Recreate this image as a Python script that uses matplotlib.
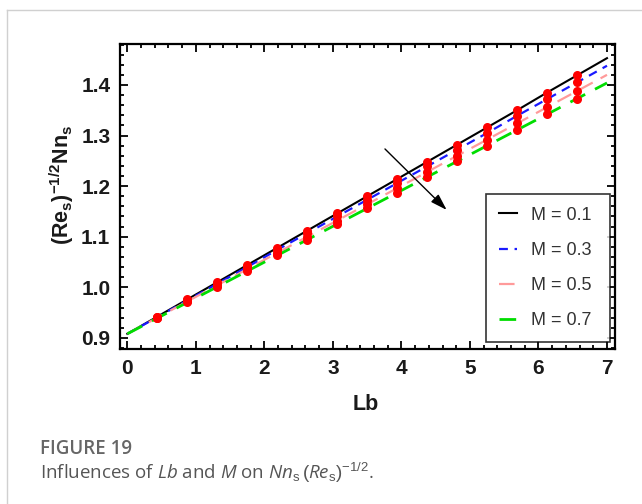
import numpy as np
import matplotlib
matplotlib.use("Agg")
import matplotlib.pyplot as plt
from matplotlib.lines import Line2D

plt.rcParams['mathtext.fontset'] = 'custom'
plt.rcParams['mathtext.rm'] = 'Liberation Sans'
plt.rcParams['mathtext.it'] = 'Open Sans:italic'
plt.rcParams['mathtext.bf'] = 'Liberation Sans:bold'

# Lb samples used for the curves (markers sit on the interior ones)
lb = [0.0, 0.4375, 0.875, 1.3125, 1.75, 2.1875, 2.625, 3.0625, 3.5,
      3.9375, 4.375, 4.8125, 5.25, 5.6875, 6.125, 6.5625, 7.0]

nn_m01 = [0.908, 0.942, 0.976, 1.010, 1.044, 1.078, 1.112, 1.146, 1.180,
          1.214, 1.248, 1.282, 1.316, 1.350, 1.385, 1.419, 1.453]
nn_m03 = [0.908, 0.941, 0.974, 1.007, 1.040, 1.074, 1.107, 1.140, 1.173,
          1.206, 1.239, 1.272, 1.305, 1.339, 1.372, 1.405, 1.438]
nn_m05 = [0.908, 0.940, 0.972, 1.004, 1.036, 1.068, 1.100, 1.132, 1.164,
          1.196, 1.228, 1.260, 1.292, 1.324, 1.356, 1.388, 1.420]
nn_m07 = [0.908, 0.939, 0.970, 1.001, 1.032, 1.063, 1.094, 1.125, 1.156,
          1.187, 1.218, 1.249, 1.280, 1.311, 1.342, 1.373, 1.404]

labels = ['M = 0.1', 'M = 0.3', 'M = 0.5', 'M = 0.7']
colors = ['black', '#1a1aff', '#ff9a9a', '#00dd00']
dashes = [None, (4, 3), (7, 4), (6, 4)]
widths = [1.5, 1.6, 1.6, 2.0]
series = [nn_m01, nn_m03, nn_m05, nn_m07]

W, H = 642, 504
fig = plt.figure(figsize=(W / 100, H / 100), dpi=100)
fig.patch.set_facecolor('white')

# thin page frame on the left and top
fig.add_artist(Line2D([7 / W, 7 / W], [0, 1 - 10 / H], color='#d0d0d0', lw=1))
fig.add_artist(Line2D([7 / W, 1], [1 - 10 / H, 1 - 10 / H], color='#d0d0d0', lw=1))

ax = fig.add_axes([120 / W, 1 - 349 / H, 495 / W, 305 / H])

handles = []
for y, c, d, w, lab in zip(series, colors, dashes, widths, labels):
    line, = ax.plot(lb, y, color=c, lw=w, label=lab)
    if d is not None:
        line.set_dashes(d)
    handles.append(line)

for y in series:
    ax.plot(lb[1:-1], y[1:-1], 'o', color='red', markersize=6.5,
            markeredgewidth=0, zorder=3)

ax.annotate('', xy=(4.66, 1.153), xytext=(3.76, 1.2735),
            arrowprops=dict(arrowstyle='-|>,head_length=1.0,head_width=0.32',
                            color='black', lw=1.0, shrinkA=0, shrinkB=0),
            zorder=5)

ax.set_xlim(-0.107, 7.117)
ax.set_ylim(0.878, 1.481)
ax.set_xticks(np.arange(0, 8, 1))
ax.set_xticks(np.arange(0, 7.01, 0.2), minor=True)
ax.set_yticks([0.9, 1.0, 1.1, 1.2, 1.3, 1.4])
ax.set_yticks(np.arange(0.88, 1.481, 0.02), minor=True)
ax.set_yticklabels(['0.9', '1.0', '1.1', '1.2', '1.3', '1.4'])

ax.tick_params(which='both', direction='in', top=True, right=True,
               width=1.3, colors='black')
ax.tick_params(which='major', length=6, pad=7)
ax.tick_params(which='minor', length=3)
for lbl in ax.get_xticklabels() + ax.get_yticklabels():
    lbl.set_fontfamily('Liberation Sans')
    lbl.set_fontweight('bold')
    lbl.set_fontsize(15)
    lbl.set_color('#1a1a1a')
for sp in ax.spines.values():
    sp.set_linewidth(1.6)

leg = ax.legend(handles=handles, loc='lower left',
                bbox_to_anchor=(0.739, 0.023, 0.251, 0.505), mode='expand',
                borderaxespad=0, fancybox=False, frameon=True,
                handlelength=1.0, handletextpad=0.8, borderpad=0.72,
                labelspacing=1.0, prop={'family': 'Liberation Sans', 'size': 13})
leg.get_frame().set_edgecolor('black')
leg.get_frame().set_linewidth(1.2)
for t in leg.get_texts():
    t.set_color('#333333')

fig.text(366 / W, 1 - 405 / H, 'Lb', ha='center', va='center',
         fontfamily='Liberation Sans', fontweight='bold', fontsize=15.5,
         color='#1a1a1a')
fig.text(62 / W, 1 - 185 / H, r'$\mathbf{(Re_{s})^{-1/2}Nn_{s}}$',
         rotation=90, ha='center', va='center', fontsize=15.5, color='#1a1a1a')

fig.text(40 / W, 1 - 449 / H, 'FIGURE 19', ha='left', va='center',
         fontfamily='Open Sans', fontweight='semibold', fontsize=13.5,
         color='#666666')
fig.text(40 / W, 1 - 473 / H,
         r'Influences of $Lb$ and $M$ on $Nn_{\mathrm{s}}\,(Re_{\mathrm{s}})^{-1/2}$.',
         ha='left', va='center', fontfamily='Open Sans', fontsize=13.5,
         color='#555555')

fig.savefig('out.png', dpi=100, facecolor='white')
